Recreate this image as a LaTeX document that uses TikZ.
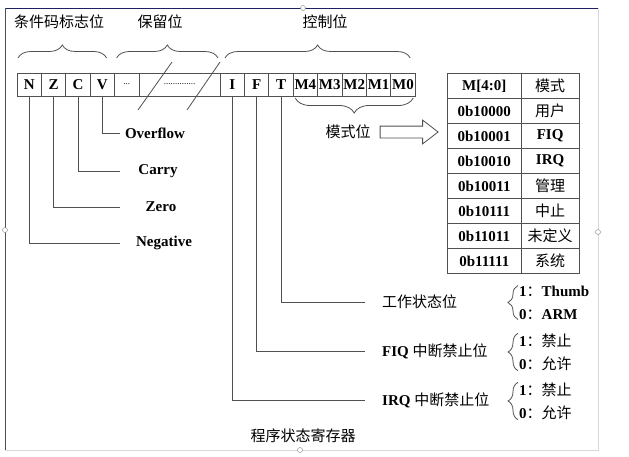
\documentclass[tikz,border=0pt]{standalone}
\usepackage{fontspec}
\setmainfont{Liberation Serif}
\newfontfamily\cjkfam{Noto Sans CJK SC}
\newcommand\zh{\cjkfam\mdseries}
\usepackage{tikz}
\usetikzlibrary{positioning,matrix,shapes.arrows,decorations.pathreplacing}
\definecolor{regline}{HTML}{505050}
\definecolor{framenavy}{HTML}{1C2260}
\definecolor{framegray}{HTML}{D8D8D8}

\begin{document}
\begin{tikzpicture}[
  x=1pt, y=-1pt,
  font=\fontsize{15}{18}\selectfont\bfseries,
  cell/.style={draw=regline, line width=0.8pt, minimum width=24.4pt,
               minimum height=23pt, inner sep=0pt, outer sep=0pt},
  widecell/.style={cell, minimum width=81pt},
  flaglabel/.style={inner sep=1pt},
  ctrllabel/.style={anchor=west, inner sep=1pt},
  optlabel/.style={anchor=west, align=left, inner sep=0pt,
                   font=\fontsize{15}{23}\selectfont\bfseries},
  lead/.style={draw=regline, line width=0.8pt},
  brace/.style={decorate, decoration={brace, amplitude=#1}, draw=regline, line width=0.8pt},
  brace/.default=13pt,
  modearrow/.style={single arrow, draw=regline, line width=0.8pt, fill=white,
                    minimum height=58pt, inner xsep=0pt, inner ysep=5.5pt,
                    single arrow head extend=6pt, single arrow tip angle=75},
  handle/.style={circle, draw=gray, fill=white, inner sep=0pt, minimum size=5pt},
]

\useasboundingbox (0,0) rectangle (629,456);

% frame of the text box
\draw[framegray] (598,8) -- (598,450) -- (5,450);
\draw[framenavy, line width=0.8pt] (5,8) -- (598,8);
\draw[regline, line width=0.8pt] (5,8) -- (5,450);
\node[handle] (htop) at (303,8) {};
\node[handle] (hleft) at (5,230) {};
\node[handle] (hright) at (598,232) {};
\node[handle] (hbottom) at (300,450) {};

% register bits
\node[cell] (n) at (29.2,84.5) {N};
\node[cell, right=0pt of n] (z) {Z};
\node[cell, right=0pt of z] (c) {C};
\node[cell, right=0pt of c] (v) {V};
\node[cell, right=0pt of v, font=\fontsize{9}{9}\selectfont] (dots) {...};
\node[widecell, right=0pt of dots, font=\fontsize{9}{9}\selectfont] (wide) {..............};
\node[cell, right=0pt of wide] (i) {I};
\node[cell, right=0pt of i] (f) {F};
\node[cell, right=0pt of f] (t) {T};
\node[cell, right=0pt of t] (m4) {M4};
\node[cell, right=0pt of m4] (m3) {M3};
\node[cell, right=0pt of m3] (m2) {M2};
\node[cell, right=0pt of m2] (m1) {M1};
\node[cell, right=0pt of m1] (m0) {M0};

% break marks over the reserved bits
\draw[lead] (172,62) -- (138,110);
\draw[lead] (220,62) -- (187,110);

% groups above the register
\draw[brace] ([xshift=1pt, yshift=15pt]n.north west) -- ([xshift=-8pt, yshift=15pt]v.north east);
\draw[brace] ([xshift=2pt, yshift=15pt]dots.north west) -- ([xshift=-2pt, yshift=15pt]wide.north east);
\draw[brace] ([xshift=5pt, yshift=15pt]i.north west) -- ([xshift=-5pt, yshift=15pt]m0.north east);
\node (flagtitle) at (59,22) {\zh 条件码标志位};
\node (restitle) at (160,22) {\zh 保留位};
\node (ctrltitle) at (325,22) {\zh 控制位};

% condition flags
\coordinate (flagend) at (120,0);
\node[flaglabel] (ovf) at (155,133) {Overflow};
\node[flaglabel] (carry) at (158,171) {Carry};
\node[flaglabel] (zero) at (161,207) {Zero};
\node[flaglabel] (neg) at (164,243) {Negative};
\draw[lead] (v.south) |- (ovf.west -| flagend);
\draw[lead] (c.south) |- (carry.west -| flagend);
\draw[lead] (z.south) |- (zero.west -| flagend);
\draw[lead] (n.south) |- (neg.west -| flagend);

% mode bits
\draw[brace=15pt] ([xshift=-2pt, yshift=-2pt]m0.south east) -- ([xshift=2pt, yshift=-2pt]m4.south west);
\node[flaglabel] (modebit) at (348,132) {\zh 模式位};
\node[modearrow, right=8pt of modebit] (modearr) {};
\matrix (modes) [matrix of nodes, anchor=north west, inner sep=0pt, outer sep=0pt,
  row sep=-0.8pt, column sep=-0.8pt,
  nodes={draw=regline, line width=0.8pt, minimum height=25pt, inner sep=0pt, anchor=center},
  column 1/.style={nodes={minimum width=73.8pt}},
  column 2/.style={nodes={minimum width=57.8pt}}] at (447,73) {
  M[4:0]  & {\zh 模式} \\
  0b10000 & {\zh 用户} \\
  0b10001 & FIQ \\
  0b10010 & IRQ \\
  0b10011 & {\zh 管理} \\
  0b10111 & {\zh 中止} \\
  0b11011 & {\zh 未定义} \\
  0b11111 & {\zh 系统} \\
};

% control bits
\coordinate (ctrlend) at (365,0);
\node[ctrllabel] (state) at (381,302) {\zh 工作状态位};
\node[ctrllabel] (fiq) at (381,351) {FIQ {\zh 中断禁止位}};
\node[ctrllabel] (irq) at (381,400) {IRQ {\zh 中断禁止位}};
\draw[lead] (t.south) |- (state.west -| ctrlend);
\draw[lead] (f.south) |- (fiq.west -| ctrlend);
\draw[lead] (i.south) |- (irq.west -| ctrlend);

\node[optlabel] (stateopt) at (519,302.5) {1{\zh ：}Thumb\\0{\zh ：}ARM};
\node[optlabel] (fiqopt) at (519,352) {1{\zh ：禁止}\\0{\zh ：允许}};
\node[optlabel] (irqopt) at (519,401) {1{\zh ：禁止}\\0{\zh ：允许}};
\draw[brace=10pt] ([xshift=-1pt]stateopt.south west) -- ([xshift=-1pt]stateopt.north west);
\draw[brace=10pt] ([xshift=-1pt]fiqopt.south west) -- ([xshift=-1pt]fiqopt.north west);
\draw[brace=10pt] ([xshift=-1pt]irqopt.south west) -- ([xshift=-1pt]irqopt.north west);

\node (psr) at (303,436) {\zh 程序状态寄存器};

\end{tikzpicture}
\end{document}
